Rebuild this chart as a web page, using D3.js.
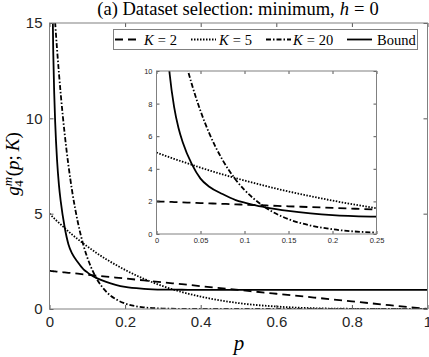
<!DOCTYPE html>
<html lang="en">
<head>
<meta charset="UTF-8">
<title>Dataset selection: minimum</title>
<script src="https://d3js.org/d3.v7.min.js"></script>
<style>
    body { margin: 0; background: #fff; }
    svg { display: block; }
    .tick text { font-family: "Liberation Sans", Arial, sans-serif; fill: #262626; }
    .domain { display: none; }
    .tick line { stroke: #555; }
    .serif { font-family: "Liberation Serif", "Times New Roman", serif; fill: #000; }
</style>
</head>
<body>
<svg width="429" height="357"></svg>
<script>
// values
const pVals = [0, 0.005, 0.0075, 0.01, 0.0125, 0.015, 0.02, 0.025, 0.03, 0.04, 0.05, 0.06, 0.075,
    0.09, 0.1, 0.11, 0.125, 0.15, 0.175, 0.2, 0.25, 0.3, 0.35, 0.4, 0.5, 0.6, 0.7, 0.8, 0.9, 1];
const k2 = [2, 1.99, 1.985, 1.98, 1.975, 1.97, 1.96, 1.95, 1.94, 1.92, 1.9, 1.88, 1.85,
    1.82, 1.8, 1.78, 1.75, 1.7, 1.65, 1.6, 1.5, 1.4, 1.3, 1.2, 1.0, 0.8, 0.6, 0.4, 0.2, 0];
const k5 = [5, 4.9, 4.85, 4.8, 4.75, 4.71, 4.61, 4.52, 4.43, 4.25, 4.07, 3.9, 3.66,
    3.43, 3.28, 3.14, 2.93, 2.61, 2.32, 2.05, 1.58, 1.2, 0.89, 0.65, 0.31, 0.13, 0.04, 0.01, 0, 0];
const k20 = [20, 18.18, 17.33, 16.52, 15.75, 15.01, 13.62, 12.36, 11.21, 9.21, 7.55, 6.17, 4.55,
    3.33, 2.7, 2.19, 1.58, 0.91, 0.52, 0.29, 0.085, 0.023, 0.006, 0, 0, 0, 0, 0, 0, 0];
const bound = [null, 24, 17, 13.4, 11.3, 9.8, 7.8, 6.5, 5.6, 4.3, 3.4, 2.9, 2.45,
    2.08, 1.92, 1.78, 1.62, 1.42, 1.27, 1.16, 1.06, 1.02, 1.01, 1, 1, 1, 1, 1, 1, 1];

const mainXTicks = [0, 0.2, 0.4, 0.6, 0.8, 1];
const mainYTicks = [0, 5, 10, 15];
const insetXTicks = [0, 0.05, 0.1, 0.15, 0.2, 0.25];
const insetYTicks = [0, 2, 4, 6, 8, 10];

const series = [
    {name: "K2", label: "2", values: k2, dash: "8,5"},
    {name: "K5", label: "5", values: k5, dash: "1.5,1.5"},
    {name: "K20", label: "20", values: k20, dash: "5,2,1.5,2"},
    {name: "Bound", label: "Bound", values: bound, dash: null}
];

let svg = d3.select("svg");

function drawPanel(id, box, xDomain, yDomain, xTicks, yTicks, fs, pad) {
    let x = d3.scaleLinear().domain(xDomain).range([box.left, box.right]);
    let y = d3.scaleLinear().domain(yDomain).range([box.bottom, box.top]);
    let g = svg.append("g").attr("id", id);

    g.append("rect")
        .attr("x", box.left).attr("y", box.top)
        .attr("width", box.right - box.left).attr("height", box.bottom - box.top)
        .attr("fill", "#fff");

    g.append("clipPath").attr("id", id + "-clip")
        .append("rect")
        .attr("x", box.left).attr("y", box.top)
        .attr("width", box.right - box.left).attr("height", box.bottom - box.top);

    let line = d3.line()
        .defined(d => d[1] != null)
        .x(d => x(d[0]))
        .y(d => y(d[1]))
        .curve(d3.curveMonotoneX);

    g.append("g").attr("clip-path", `url(#${id}-clip)`)
        .selectAll("path")
        .data(series)
        .join("path")
        .attr("d", s => line(pVals.map((p, i) => [p, s.values[i]])))
        .attr("fill", "none")
        .attr("stroke", "#000")
        .attr("stroke-width", 1.8)
        .attr("stroke-dasharray", s => s.dash);

    let tl = fs > 10 ? 4 : 3;
    g.append("g").attr("transform", `translate(0,${box.bottom})`)
        .call(d3.axisBottom(x).tickValues(xTicks).tickFormat(d => String(d)).tickSize(-tl).tickPadding(pad))
        .style("font-size", fs + "px");
    g.append("g").attr("transform", `translate(0,${box.top})`)
        .call(d3.axisTop(x).tickValues(xTicks).tickFormat("").tickSize(-tl));
    g.append("g").attr("transform", `translate(${box.left},0)`)
        .call(d3.axisLeft(y).tickValues(yTicks).tickFormat(d => String(d)).tickSize(-tl).tickPadding(pad))
        .style("font-size", fs + "px");
    g.append("g").attr("transform", `translate(${box.right},0)`)
        .call(d3.axisRight(y).tickValues(yTicks).tickFormat("").tickSize(-tl));
    g.selectAll(".tick text").attr("font-family", null);

    g.append("rect")
        .attr("x", box.left).attr("y", box.top)
        .attr("width", box.right - box.left).attr("height", box.bottom - box.top)
        .attr("fill", "none")
        .attr("stroke", "#808080")
        .attr("stroke-width", 1);
}

drawPanel("main", {left: 49.5, right: 427.5, top: 23, bottom: 309}, [0, 1], [0, 15],
    mainXTicks, mainYTicks, 15, 7);
drawPanel("inset", {left: 156.5, right: 376.5, top: 71, bottom: 234}, [0, 0.25], [0, 10],
    insetXTicks, insetYTicks, 7.5, 4);

// title
let title = svg.append("text").attr("class", "serif")
    .attr("x", 238).attr("y", 15).attr("text-anchor", "middle")
    .style("font-size", "18.5px");
title.append("tspan").text("(a) Dataset selection: minimum,");
title.append("tspan").attr("dx", 5).style("font-style", "italic").text("h");
title.append("tspan").attr("dx", 5).text("=");
title.append("tspan").attr("dx", 5).text("0");

// axis labels
svg.append("text").attr("class", "serif")
    .attr("x", 239).attr("y", 350).attr("text-anchor", "middle")
    .style("font-size", "21px").style("font-style", "italic")
    .text("p");

let yl = svg.append("text").attr("class", "serif")
    .attr("transform", "translate(19,164) rotate(-90)")
    .attr("text-anchor", "middle")
    .style("font-size", "19px");
yl.append("tspan").style("font-style", "italic").text("g");
yl.append("tspan").attr("dy", -7).style("font-size", "13px").style("font-style", "italic").text("m");
yl.append("tspan").attr("dx", -10).attr("dy", 11).style("font-size", "13px").text("4");
yl.append("tspan").attr("dx", 4).attr("dy", -4).text("(");
yl.append("tspan").style("font-style", "italic").text("p");
yl.append("tspan").text(";");
yl.append("tspan").attr("dx", 4).style("font-style", "italic").text("K");
yl.append("tspan").text(")");

// legend
let legend = svg.append("g").attr("id", "legend");
legend.append("rect")
    .attr("x", 113.5).attr("y", 29.5).attr("width", 304).attr("height", 20)
    .attr("fill", "#fff").attr("stroke", "#808080").attr("stroke-width", 1);

const legendX = [115, 191, 266, 347];
const legendTextX = [144, 219, 293, 377];
series.forEach((s, i) => {
    legend.append("line")
        .attr("x1", legendX[i]).attr("x2", legendX[i] + 25)
        .attr("y1", 39.5).attr("y2", 39.5)
        .attr("stroke", "#000").attr("stroke-width", 1.8)
        .attr("stroke-dasharray", s.dash);
    let t = legend.append("text").attr("class", "serif")
        .attr("x", legendTextX[i]).attr("y", 44.5)
        .style("font-size", "14.5px");
    if (s.name === "Bound") {
        t.text(s.label);
    } else {
        t.append("tspan").style("font-style", "italic").text("K");
        t.append("tspan").attr("dx", 4).text("=");
        t.append("tspan").attr("dx", 4).text(s.label);
    }
});
</script>
</body>
</html>
